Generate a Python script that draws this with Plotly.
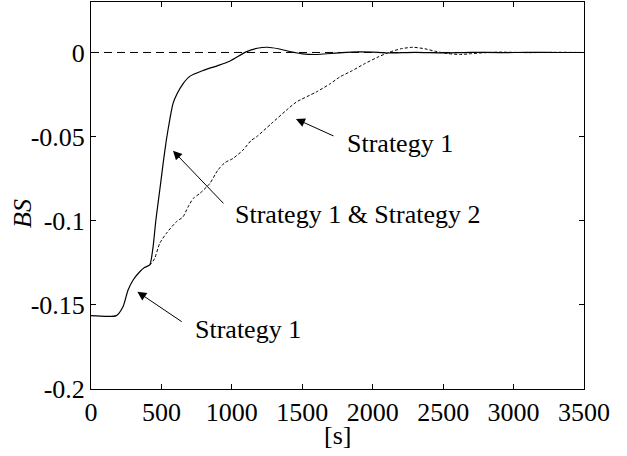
import plotly.graph_objects as go

# Shared part + Strategy 1 & 2 (solid)
t_solid = [0, 180, 228, 263, 299, 346, 382, 417, 440, 460, 480, 497, 512, 535, 559, 582,
           611, 653, 701, 795, 900, 985, 1105, 1180, 1254, 1330, 1410, 1500, 1600, 1700,
           1765, 1900, 2000, 2100, 2300, 2500, 2700, 2900, 3100, 3300, 3500]
bs_solid = [-0.1564, -0.1564, -0.151, -0.1412, -0.1352, -0.1303, -0.1277, -0.1263, -0.116,
            -0.100, -0.087, -0.076, -0.066, -0.052, -0.040, -0.0304, -0.0245, -0.0186,
            -0.0142, -0.0107, -0.0078, -0.0052, 0.0005, 0.0025, 0.0031, 0.0022, 0.0006,
            -0.0008, -0.0012, -0.0006, -0.0002, 0.0004, 0.0002, -0.0003, 0.0001, -0.0002,
            0.0001, -0.0001, 0.0001, 0.0, 0.0]

# Strategy 1 only (dashed), branching off at t = 417
t_dashed = [417, 429, 452, 488, 535, 606, 653, 689, 725, 772, 843, 900, 950, 1008, 1079,
            1138, 1174, 1280, 1386, 1457, 1599, 1700, 1765, 1850, 1940, 2030, 2119, 2200,
            2285, 2370, 2450, 2530, 2616, 2700, 2781, 2900, 3100, 3300, 3500]
bs_dashed = [-0.1263, -0.1253, -0.1224, -0.1134, -0.1075, -0.1006, -0.0977, -0.0918,
             -0.0868, -0.0838, -0.0779, -0.0700, -0.0655, -0.063, -0.058, -0.0522, -0.0502,
             -0.0423, -0.0344, -0.0295, -0.0235, -0.0185, -0.0146, -0.011, -0.0068, -0.003,
             0.0002, 0.0022, 0.0031, 0.0022, 0.0006, -0.0006, -0.0012, -0.0007, -0.0002,
             0.0002, -0.0001, 0.0001, 0.0]

t_ref = [0, 3500]
bs_ref = [0, 0]

x_ticks = [0, 500, 1000, 1500, 2000, 2500, 3000, 3500]
x_labels = ["0", "500", "1000", "1500", "2000", "2500", "3000", "3500"]
y_ticks = [0, -0.05, -0.1, -0.15, -0.2]
y_labels = ["0", "-0.05", "-0.1", "-0.15", "-0.2"]

FONT = "Liberation Serif"
FS = 26

fig = go.Figure()
fig.add_trace(go.Scatter(x=t_ref, y=bs_ref, mode="lines",
                         line=dict(color="black", width=1, dash="8px,5px")))
fig.add_trace(go.Scatter(x=t_dashed, y=bs_dashed, mode="lines",
                         line=dict(color="black", width=1, dash="3px,2px", shape="spline", smoothing=0.6)))
fig.add_trace(go.Scatter(x=t_solid, y=bs_solid, mode="lines",
                         line=dict(color="black", width=1.2, shape="spline", smoothing=0.6)))

arrows = [
    # (head_t, head_v, tail_t, tail_v)
    (1455, -0.0395, 1732, -0.050),
    (582, -0.0584, 951, -0.0906),
    (329, -0.1422, 655, -0.1606),
]
for ht, hv, tt, tv in arrows:
    fig.add_annotation(x=ht, y=hv, ax=tt, ay=tv, xref="x", yref="y", axref="x", ayref="y",
                       text="", showarrow=True, arrowhead=2, arrowsize=1.8, arrowwidth=1,
                       arrowcolor="black", standoff=0, startstandoff=0)

labels = [
    ("Strategy 1", 1803, -0.0538),
    ("Strategy 1 &amp; Strategy 2", 1006, -0.096),
    ("Strategy 1", 726, -0.1649),
]
for txt, lx, ly in labels:
    fig.add_annotation(x=lx, y=ly, xref="x", yref="y", text=txt, showarrow=False,
                       xanchor="left", yanchor="middle",
                       font=dict(family=FONT, size=FS, color="black"))

# axis titles
fig.add_annotation(x=-0.138, y=0.455, xref="paper", yref="paper", text="<i>BS</i>",
                   showarrow=False, textangle=-90, xanchor="center", yanchor="middle",
                   font=dict(family=FONT, size=FS, color="black"))
fig.add_annotation(x=0.5, y=-0.121, xref="paper", yref="paper", text="[s]",
                   showarrow=False, xanchor="center", yanchor="middle",
                   font=dict(family=FONT, size=FS, color="black"))

axis_common = dict(showgrid=False, zeroline=False, showline=True, linecolor="black",
                   linewidth=1, mirror="ticks", ticks="inside", ticklen=5,
                   tickcolor="black", tickfont=dict(family=FONT, size=FS, color="black"))

fig.update_xaxes(range=[0, 3500], tickvals=x_ticks, ticktext=x_labels, **axis_common)
fig.update_yaxes(range=[-0.2, 0.03], tickvals=y_ticks, ticktext=y_labels, **axis_common)

fig.update_layout(width=627, height=456, showlegend=False,
                  margin=dict(l=91, r=43, t=2, b=67),
                  plot_bgcolor="white", paper_bgcolor="white",
                  font=dict(family=FONT, size=FS, color="black"))

fig.write_html("out.html", config={"displayModeBar": False},
               post_script="document.body.style.margin='0';document.body.style.overflow='hidden';")
